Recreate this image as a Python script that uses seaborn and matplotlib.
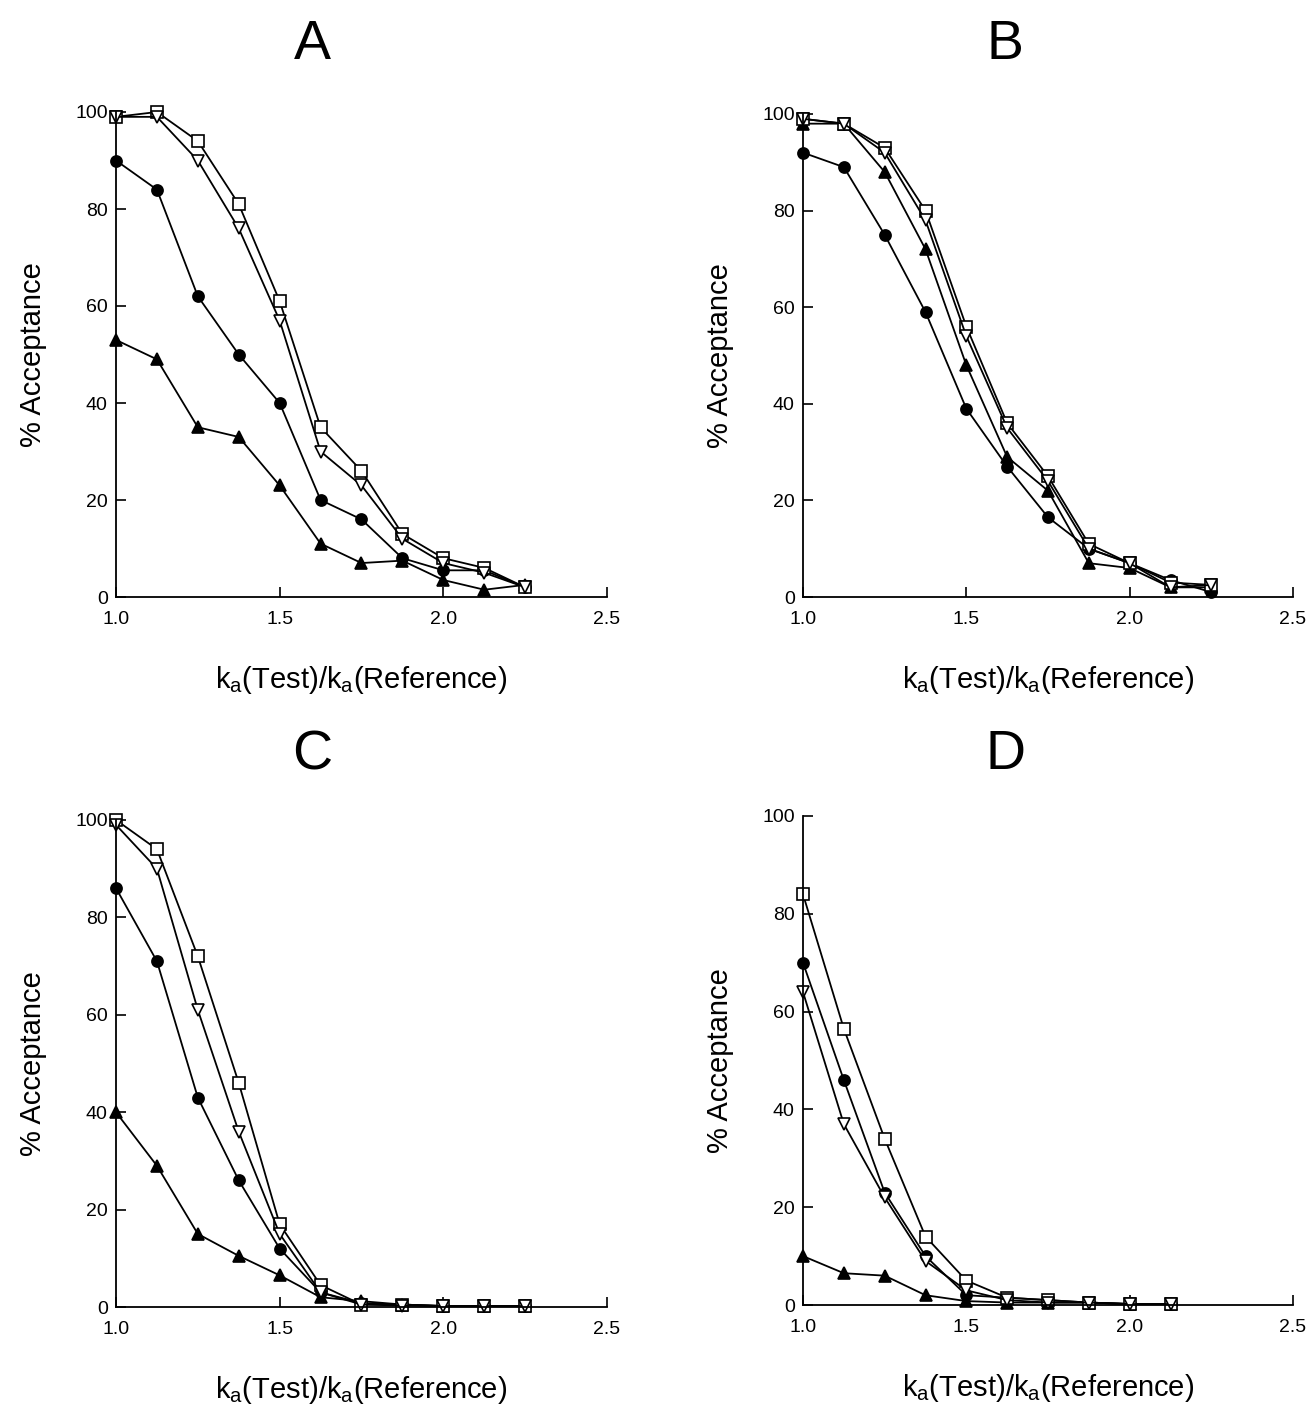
import matplotlib
matplotlib.use('Agg')
import matplotlib.pyplot as plt
import numpy as np
import seaborn as sns

ratio = [1.0, 1.125, 1.25, 1.375, 1.5, 1.625, 1.75, 1.875, 2.0, 2.125, 2.25]

# panel A
a_square = [99, 100, 94, 81, 61, 35, 26, 13, 8, 6, 2]
a_tridown = [99, 99, 90, 76, 57, 30, 23, 12, 7, 5, 2]
a_circle = [90, 84, 62, 50, 40, 20, 16, 8, 5.5, 5.5, 2]
a_triup = [53, 49, 35, 33, 23, 11, 7, 7.5, 3.5, 1.5, 2.5]

# panel B
b_square = [99, 98, 93, 80, 56, 36, 25, 11, 7, 3, 2.5]
b_tridown = [99, 98, 92, 78, 54, 35, 24, 10, 7, 2, 2.5]
b_circle = [92, 89, 75, 59, 39, 27, 16.5, 10, 7, 3.5, 1]
b_triup = [98, 98, 88, 72, 48, 29, 22, 7, 6, 2, 2]

# panel C
c_square = [100, 94, 72, 46, 17, 4.5, 0.5, 0.5, 0.2, 0.2, 0.2]
c_tridown = [99, 90, 61, 36, 15, 3, 0.5, 0.3, 0.2, 0.2, 0.2]
c_circle = [86, 71, 43, 26, 12, 3, 0.8, 0.5, 0.2, 0.2, 0.2]
c_triup = [40, 29, 15, 10.5, 6.5, 2, 1.2, 0.5, 0.2, 0.2, 0.2]

# panel D (stops at 2.125)
d_square = [84, 56.5, 34, 14, 5, 1.5, 1, 0.5, 0.2, 0.2]
d_tridown = [64, 37, 22, 9, 3, 1, 0.5, 0.5, 0.2, 0.2]
d_circle = [70, 46, 23, 10, 2, 1.5, 1, 0.5, 0.2, 0.2]
d_triup = [10, 6.5, 6, 2, 0.8, 0.5, 0.5, 0.5, 0.2, 0.2]

# drawing order: filled first, open ones on top
panels = {
    'A': (a_triup, a_circle, a_square, a_tridown),
    'B': (b_triup, b_circle, b_square, b_tridown),
    'C': (c_triup, c_circle, c_square, c_tridown),
    'D': (d_triup, d_circle, d_square, d_tridown),
}

sns.set_style('ticks')
plt.rcParams['font.family'] = ['Liberation Sans', 'DejaVu Sans']
plt.rcParams['mathtext.fontset'] = 'custom'
plt.rcParams['mathtext.rm'] = 'Liberation Sans'
for k in ['text.color', 'axes.labelcolor', 'xtick.color', 'ytick.color', 'axes.edgecolor']:
    plt.rcParams[k] = 'black'
plt.rcParams['xtick.direction'] = 'in'
plt.rcParams['ytick.direction'] = 'in'

fig = plt.figure(figsize=(13.15, 14.08), dpi=100)

W, H = 1315, 1408
boxes = {
    'A': (116, 112, 607, 597),
    'B': (803, 114, 1293, 597),
    'C': (116, 820, 607, 1307),
    'D': (803, 816, 1293, 1305),
}
title_pos = {'A': (312, 45), 'B': (1005, 45), 'C': (312, 755), 'D': (1005, 755)}

styles = [
    dict(marker='^', mfc='black'),
    dict(marker='o', mfc='black'),
    dict(marker='s', mfc='white'),
    dict(marker='v', mfc='white'),
]

for key, series in panels.items():
    x0, y0, x1, y1 = boxes[key]
    ax = fig.add_axes([x0 / W, 1 - y1 / H, (x1 - x0) / W, (y1 - y0) / H])
    for vals, st in zip(series, styles):
        sns.lineplot(x=ratio[:len(vals)], y=vals, ax=ax, color='black', lw=1.3,
                     marker=st['marker'], mfc=st['mfc'], mec='black', ms=8,
                     mew=1.2, clip_on=False)
    ax.set_xlim(1.0, 2.5)
    ax.set_ylim(0, 100)
    ax.set_xticks([1.0, 1.5, 2.0, 2.5])
    ax.set_xticklabels(['1.0', '1.5', '2.0', '2.5'])
    ax.set_yticks([0, 20, 40, 60, 80, 100])
    ax.tick_params(direction='in', length=7, width=1.2, labelsize=14)
    ax.tick_params(axis='x', pad=10)
    ax.tick_params(axis='y', pad=6)
    for s in ['top', 'right']:
        ax.spines[s].set_visible(False)
    for s in ['left', 'bottom']:
        ax.spines[s].set_linewidth(1.3)
    ax.set_ylabel('% Acceptance', fontsize=21, labelpad=20)
    ax.set_xlabel(r'k$_\mathregular{a}$(Test)/k$_\mathregular{a}$(Reference)',
                  fontsize=21, labelpad=26)
    tx, ty = title_pos[key]
    fig.text(tx / W, 1 - ty / H, key, fontsize=40, ha='center', va='center')

fig.savefig('out.png', dpi=100)
